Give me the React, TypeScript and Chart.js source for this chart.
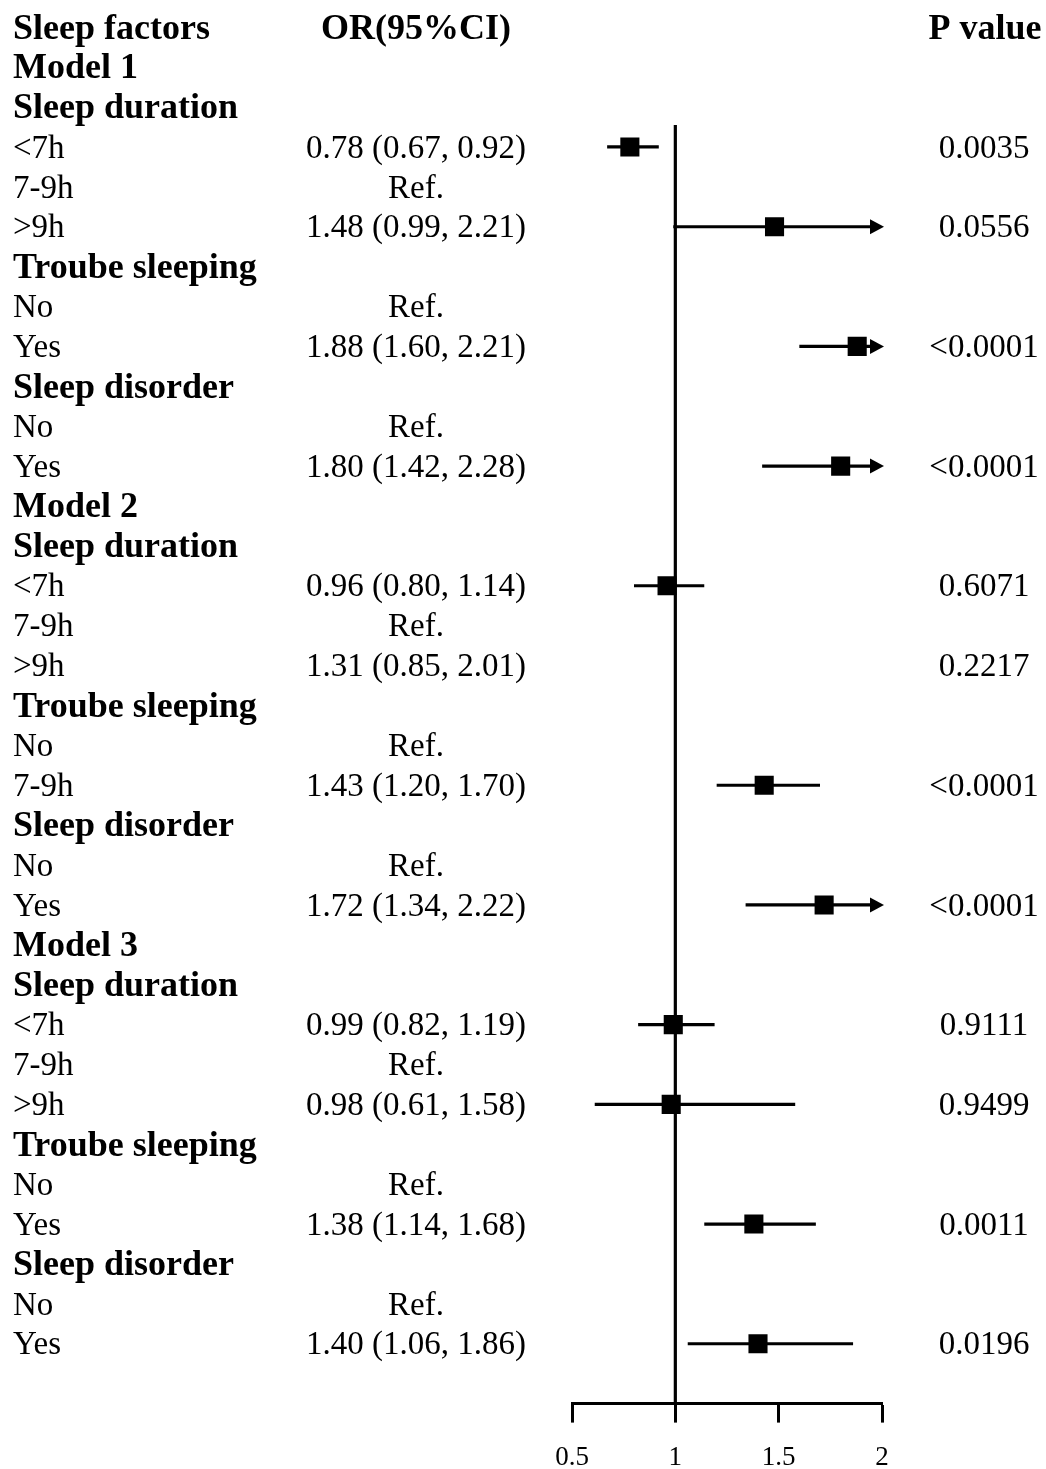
import React, { useEffect, useRef } from "react";
import { Chart, registerables } from "chart.js";

Chart.register(...registerables);

// ---------- data ----------
const columnHeaders = ["Sleep factors", "OR(95%CI)", "P value"];

const rowLabels = [
  "Model 1", "Sleep duration", "<7h", "7-9h", ">9h",
  "Troube sleeping", "No", "Yes",
  "Sleep disorder", "No", "Yes",
  "Model 2", "Sleep duration", "<7h", "7-9h", ">9h",
  "Troube sleeping", "No", "7-9h",
  "Sleep disorder", "No", "Yes",
  "Model 3", "Sleep duration", "<7h", "7-9h", ">9h",
  "Troube sleeping", "No", "Yes",
  "Sleep disorder", "No", "Yes",
];

const rowIsHeading = [
  true, true, false, false, false,
  true, false, false,
  true, false, false,
  true, true, false, false, false,
  true, false, false,
  true, false, false,
  true, true, false, false, false,
  true, false, false,
  true, false, false,
];

const orTexts = [
  "", "", "0.78 (0.67, 0.92)", "Ref.", "1.48 (0.99, 2.21)",
  "", "Ref.", "1.88 (1.60, 2.21)",
  "", "Ref.", "1.80 (1.42, 2.28)",
  "", "", "0.96 (0.80, 1.14)", "Ref.", "1.31 (0.85, 2.01)",
  "", "Ref.", "1.43 (1.20, 1.70)",
  "", "Ref.", "1.72 (1.34, 2.22)",
  "", "", "0.99 (0.82, 1.19)", "Ref.", "0.98 (0.61, 1.58)",
  "", "Ref.", "1.38 (1.14, 1.68)",
  "", "Ref.", "1.40 (1.06, 1.86)",
];

const pValues = [
  "", "", "0.0035", "", "0.0556",
  "", "", "<0.0001",
  "", "", "<0.0001",
  "", "", "0.6071", "", "0.2217",
  "", "", "<0.0001",
  "", "", "<0.0001",
  "", "", "0.9111", "", "0.9499",
  "", "", "0.0011",
  "", "", "0.0196",
];

// plotted estimates (null = no mark drawn in the figure)
const orValues: (number | null)[] = [
  null, null, 0.78, null, 1.48,
  null, null, 1.88,
  null, null, 1.80,
  null, null, 0.96, null, null,
  null, null, 1.43,
  null, null, 1.72,
  null, null, 0.99, null, 0.98,
  null, null, 1.38,
  null, null, 1.40,
];
const ciLower: (number | null)[] = [
  null, null, 0.67, null, 0.99,
  null, null, 1.60,
  null, null, 1.42,
  null, null, 0.80, null, null,
  null, null, 1.20,
  null, null, 1.34,
  null, null, 0.82, null, 0.61,
  null, null, 1.14,
  null, null, 1.06,
];
const ciUpper: (number | null)[] = [
  null, null, 0.92, null, 2.21,
  null, null, 2.21,
  null, null, 2.28,
  null, null, 1.14, null, null,
  null, null, 1.70,
  null, null, 2.22,
  null, null, 1.19, null, 1.58,
  null, null, 1.68,
  null, null, 1.86,
];

const xTicks = [0.5, 1, 1.5, 2];
const refValue = 1;

// ---------- layout / style ----------
const W = 1046;
const H_VIEW = 1469;
const H_CANVAS = 1493;
const FONT = '"Liberation Serif", "Times New Roman", serif';
const NORMAL = `33px ${FONT}`;
const BOLD = `bold 36px ${FONT}`;
const COL1_X = 13;
const COL2_X = 416;
const COL3_X = 984;
const TEXT_DY = 2;

const forestPlugin = {
  id: "forestPlugin",
  beforeDatasetsDraw(chart: any) {
    const { ctx, chartArea, scales } = chart;
    const x = scales.x;
    const y = scales.y;
    ctx.save();
    ctx.strokeStyle = "#000";
    ctx.fillStyle = "#000";
    ctx.lineWidth = 3.2;
    // reference line
    const xr = x.getPixelForValue(refValue);
    ctx.beginPath();
    ctx.moveTo(xr, chartArea.top);
    ctx.lineTo(xr, chartArea.bottom);
    ctx.stroke();
    // confidence intervals
    orValues.forEach((v, i) => {
      const lo = ciLower[i];
      const hi = ciUpper[i];
      if (v == null || lo == null || hi == null) return;
      const py = y.getPixelForValue(i + 1);
      const over = hi > x.max;
      const pl = x.getPixelForValue(Math.max(lo, x.min));
      const ph = x.getPixelForValue(Math.min(hi, x.max));
      ctx.beginPath();
      ctx.moveTo(pl, py);
      ctx.lineTo(over ? ph - 8 : ph, py);
      ctx.stroke();
      if (over) {
        ctx.beginPath();
        ctx.moveTo(ph + 2, py);
        ctx.lineTo(ph - 12, py - 7.5);
        ctx.lineTo(ph - 12, py + 7.5);
        ctx.closePath();
        ctx.fill();
      }
    });
    ctx.restore();
  },
  afterDraw(chart: any) {
    const { ctx, scales } = chart;
    const y = scales.y;
    ctx.save();
    ctx.fillStyle = "#000";
    ctx.textBaseline = "middle";
    // header row
    const hy = y.getPixelForValue(0) + TEXT_DY;
    ctx.font = BOLD;
    ctx.textAlign = "left";
    ctx.fillText(columnHeaders[0], COL1_X, hy);
    ctx.textAlign = "center";
    ctx.fillText(columnHeaders[1], COL2_X, hy);
    ctx.fillText(columnHeaders[2], COL3_X + 1, hy);
    rowLabels.forEach((lab, i) => {
      const py = y.getPixelForValue(i + 1) + TEXT_DY;
      ctx.font = rowIsHeading[i] ? BOLD : NORMAL;
      ctx.textAlign = "left";
      ctx.fillText(lab, COL1_X, py);
      ctx.font = NORMAL;
      ctx.textAlign = "center";
      if (orTexts[i]) ctx.fillText(orTexts[i], COL2_X, py);
      if (pValues[i]) ctx.fillText(pValues[i], COL3_X, py);
    });
    ctx.restore();
  },
};

export default function App() {
  const ref = useRef<HTMLCanvasElement | null>(null);
  useEffect(() => {
    if (!ref.current) return;
    const points = orValues
      .map((v, i) => (v == null ? null : { x: v, y: i + 1 }))
      .filter((p) => p !== null) as { x: number; y: number }[];
    const chart = new Chart(ref.current, {
      type: "scatter",
      data: {
        datasets: [
          {
            data: points,
            pointStyle: "rect",
            pointRadius: 13.5,
            pointHoverRadius: 13.5,
            backgroundColor: "#000",
            borderColor: "#000",
            borderWidth: 0,
          },
        ],
      },
      options: {
        responsive: false,
        animation: false,
        devicePixelRatio: 1,
        layout: { padding: { left: 572, right: 164, top: 125, bottom: 0 } },
        plugins: {
          legend: { display: false },
          tooltip: { enabled: false },
        },
        scales: {
          x: {
            type: "linear",
            min: 0.5,
            max: 2,
            afterBuildTicks: (scale: any) => {
              scale.ticks = xTicks.map((v) => ({ value: v }));
            },
            grid: {
              drawOnChartArea: false,
              drawTicks: true,
              tickLength: 19,
              tickWidth: 3,
              color: "#000",
            },
            border: { display: true, color: "#000", width: 3 },
            ticks: {
              padding: 19,
              color: "#000",
              font: { family: FONT, size: 27 },
              maxRotation: 0,
              callback: (v: any) => String(v),
            },
          },
          y: {
            type: "linear",
            display: false,
            min: 2.45,
            max: 34.5,
            reverse: true,
          },
        },
      },
      plugins: [forestPlugin],
    });
    return () => chart.destroy();
  }, []);
  return (
    <div
      style={{
        position: "absolute",
        left: 0,
        top: 0,
        width: W,
        height: H_VIEW,
        overflow: "hidden",
        background: "#fff",
      }}
    >
      <canvas
        ref={ref}
        width={W}
        height={H_CANVAS}
        style={{ display: "block", width: W, height: H_CANVAS }}
      />
    </div>
  );
}
